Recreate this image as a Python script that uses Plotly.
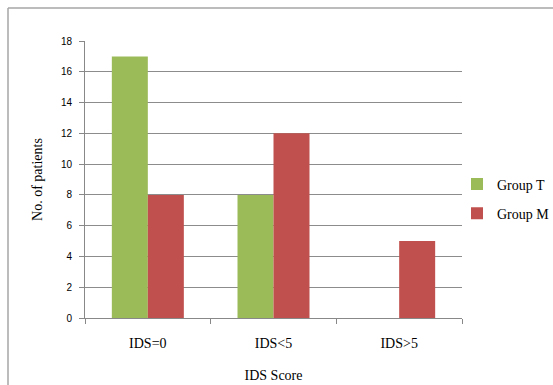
import plotly.graph_objects as go

categories = ["IDS=0", "IDS<5", "IDS>5"]
group_t = [17, 8, 0]
group_m = [8, 12, 5]
y_ticks = [0, 2, 4, 6, 8, 10, 12, 14, 16, 18]

W, H = 553, 385
L, R, T, B = 85, 91, 41, 67
pw, ph = W - L - R, H - T - B

serif = "Liberation Serif"

fig = go.Figure()
fig.add_trace(go.Bar(name="Group T", x=categories, y=group_t,
                     marker=dict(color="#9BBB59", line=dict(width=0)),
                     legendgroup="t"))
fig.add_trace(go.Bar(name="Group M", x=categories, y=group_m,
                     marker=dict(color="#C0504D", line=dict(width=0)),
                     legendgroup="m"))

# outer frame: top and left edges
px = lambda v: (v - L) / pw
py = lambda v: (H - B - v) / ph
frame = dict(type="line", xref="paper", yref="paper",
             line=dict(color="#A6A6A6", width=1.5))
fig.add_shape(**frame, x0=px(8), x1=px(W), y0=py(8), y1=py(8))
fig.add_shape(**frame, x0=px(8), x1=px(8), y0=py(8), y1=py(H))

fig.update_layout(
    width=W, height=H,
    margin=dict(l=L, r=R, t=T, b=B, autoexpand=False),
    paper_bgcolor="white", plot_bgcolor="white",
    barmode="group", bargap=0.427, bargroupgap=0,
    font=dict(family=serif, size=14, color="#000000"),
    legend=dict(x=px(457), xanchor="left", y=py(199), yanchor="middle",
                traceorder="grouped", tracegroupgap=8,
                font=dict(family=serif, size=14), itemwidth=30,
                bgcolor="rgba(0,0,0,0)"),
    xaxis=dict(
        type="category", tickson="boundaries", ticks="outside", ticklen=5,
        tickcolor="#888888", showline=True, linecolor="#888888", linewidth=1,
        showgrid=False, tickfont=dict(family=serif, size=14),
        ticklabelstandoff=12,
        title=dict(text="IDS Score", font=dict(family=serif, size=14), standoff=20),
    ),
    yaxis=dict(
        range=[0, 18], tickvals=y_ticks, ticks="outside", ticklen=5,
        tickcolor="#888888", showline=True, linecolor="#888888", linewidth=1,
        showgrid=True, gridcolor="#8C8C8C", gridwidth=1, zeroline=False,
        tickfont=dict(family="Liberation Sans", size=10),
        ticklabelstandoff=5,
        title=dict(text="No. of patients", font=dict(family=serif, size=14), standoff=14),
    ),
)

fig.write_html("out.html")
